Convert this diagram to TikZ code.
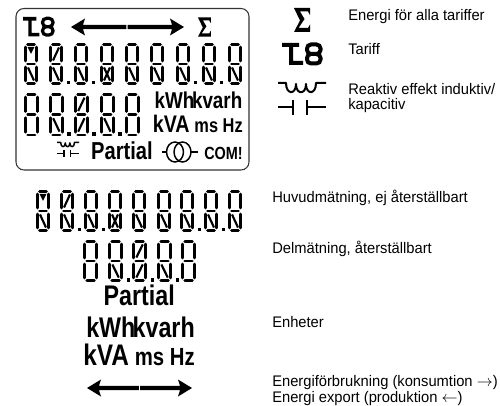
\documentclass[tikz,border=0pt]{standalone}
\usepackage{fontspec}
\setmainfont[FakeStretch=0.96]{Liberation Sans}
\newfontfamily\lcdfont[FakeStretch=0.82]{Liberation Sans}
\tikzset{
  x=0.75pt,y=-0.75pt,
  seg/.style={line width=2.1pt,line cap=round},
  diag/.style={line width=1.6pt},
  lbl/.style={anchor=base west,inner sep=0pt,font=\fontsize{11.5pt}{13pt}\selectfont},
  unit/.style={anchor=base east,inner sep=0pt,font=\lcdfont\bfseries\fontsize{#1}{#1}\selectfont}
}
% one display digit, local box 14 x 42
\newcommand{\lcd}[5]{%
\begin{scope}[shift={(#1,#2)},xscale=#3,yscale=#4]
  \draw[seg] (3.5,1.3)--(10.5,1.3) (3.5,21)--(10.5,21) (3.5,40.7)--(10.5,40.7)
     (1.3,4)--(1.3,18) (12.7,4)--(12.7,18) (1.3,24)--(1.3,38) (12.7,24)--(12.7,38);
  #5
\end{scope}}
\newcommand{\dL}{\draw[diag] (4,24.5)--(10,37.5);}
\newcommand{\dF}{\draw[diag] (4,37.5)--(10,24.5);}
\newcommand{\uF}{\draw[diag] (4,17.5)--(10,4.5);}
\newcommand{\uV}{\fill (3.6,4)--(10.4,4)--(7,11)--cycle;}
\newcommand{\dX}{\dL\dF}
\newcommand{\pt}{\fill (17.5,38) rectangle (20.5,41.5);}
\newcommand{\tariff}[5]{%
\begin{scope}[shift={(#1,#2)},xscale=#3,yscale=#4]
  \fill (0,0) rectangle (17,4) (7,0) rectangle (11,22) (7,18) rectangle (21,22);
  \draw[line width=#5,rounded corners=3] (25,1.5) rectangle (38.5,11) (25,11) rectangle (38.5,20.5);
\end{scope}}
\newcommand{\sigm}[3]{%
\begin{scope}[shift={(#1,#2)},scale=#3]
  \fill (0,0)--(16,0)--(16,7)--(14,3.5)--(6,3.5)--(10.5,11)--(4.5,20)--(14,20)--(16,16.5)--(16,24)--(0,24)--(6,12.5)--cycle;
\end{scope}}
\newcommand{\react}[4]{%
\begin{scope}[shift={(#1,#2)},scale=#3]
  \draw[line width=#4,line join=round] (0,1)--(8,1) .. controls (8,13) and (18,13) .. (18,2)
     .. controls (18,13) and (28,13) .. (28,2) .. controls (28,13) and (38,13) .. (38,1)--(48,1);
  \draw[line width=#4] (0,25)--(15,25) (15,18)--(15,33) (29,18)--(29,33) (29,25)--(48,25);
\end{scope}}
\newcommand{\dblarrow}[4]{% x1,x2,y,gap
  \fill (#1,#3)--(#1+14,#3-8.5)--(#1+12,#3-2.2)--(#4-.7,#3-2.2)--(#4-.7,#3+2.2)--(#1+12,#3+2.2)--(#1+14,#3+8.5)--cycle;
  \fill (#2,#3)--(#2-14,#3-8.5)--(#2-12,#3-2.2)--(#4+.7,#3-2.2)--(#4+.7,#3+2.2)--(#2-12,#3+2.2)--(#2-14,#3+8.5)--cycle;}
\begin{document}
\begin{tikzpicture}
\useasboundingbox (0,0) rectangle (500,406);
\draw[line width=0.8pt,draw=black!80,rounded corners=6] (16,8.5) rectangle (249,170);
\tariff{23}{17}{0.78}{0.88}{2.4pt}
\dblarrow{71}{184}{27}{127}
\sigm{198}{17.5}{0.8}
% display, line 1
\lcd{24}{43}{1}{1}{\uV\dL}
\lcd{49}{43}{1}{1}{\uF\dL\pt}
\lcd{74}{43}{1}{1}{\dL\pt}
\lcd{100}{43}{1}{1}{\dX}
\lcd{125}{43}{1}{1}{\dL}
\lcd{150}{43}{1}{1}{\dL}
\lcd{176}{43}{1}{1}{\dL\pt}
\lcd{202}{43}{1}{1}{\dL\pt}
\lcd{228}{43}{1}{1}{\dL}
% display, line 2
\lcd{24}{93}{1.05}{1.03}{}
\lcd{49}{93}{1.05}{1.03}{\dL\pt}
\lcd{74}{93}{1.05}{1.03}{\uF\dF\pt}
\lcd{100}{93}{1.05}{1.03}{\dL\pt}
\lcd{125}{93}{1.05}{1.03}{}
\node[unit=17.2pt] (u1) at (242.5,109) {kWh\kern-.1em kvarh};
\node[unit=18pt] (u2) at (243,133) {kVA\kern.2em\fontsize{15pt}{15pt}\selectfont ms Hz};
\react{57}{142}{0.46}{1.1pt}
\node[unit=18.4pt] (u3) at (153,160) {Partial};
\draw[line width=1.1pt] (162,152)--(166,152) (191,152)--(198,152);
\draw[line width=1.1pt] (175,152) ellipse[x radius=8.5,y radius=10];
\draw[line width=1.1pt] (182.5,152) ellipse[x radius=8.5,y radius=10];
\node[unit=13.2pt] (u4) at (243,160) {COM!};
% explanation, right column
\sigm{294}{8}{1}
\tariff{282}{43}{1}{1}{3pt}
\react{278}{82}{1}{1.5pt}
\node[lbl] (t1) at (348,21) {Energi för alla tariffer};
\node[lbl] (t2) at (348,55) {Tariff};
\node[lbl] (t3) at (348,95) {Reaktiv effekt induktiv/};
\node[lbl] (t4) at (348,110) {kapacitiv};
% separated segments
\lcd{36}{190}{1}{1}{\uV\dL}
\lcd{60}{190}{1}{1}{\uF\dL\pt}
\lcd{84}{190}{1}{1}{\dL\pt}
\lcd{108}{190}{1}{1}{\dX}
\lcd{132}{190}{1}{1}{\dL}
\lcd{157}{190}{1}{1}{\dL}
\lcd{180}{190}{1}{1}{\dL\pt}
\lcd{204}{190}{1}{1}{\dL\pt}
\lcd{228}{190}{1}{1}{\dL}
\lcd{83}{240}{1.08}{1}{}
\lcd{108}{240}{1.08}{1}{\dL\pt}
\lcd{132}{240}{1.08}{1}{\uF\dF\pt}
\lcd{157}{240}{1.08}{1}{\dL\pt}
\lcd{181}{240}{1.08}{1}{}
\node[unit=21.3pt] (u5) at (175,305) {Partial};
\node[unit=21.3pt] (u6) at (195,337) {kWh\kern-.1em kvarh};
\node[unit=22.3pt] (u7) at (195,365) {kVA\kern.2em\fontsize{18.6pt}{18pt}\selectfont ms Hz};
\dblarrow{87}{192}{388}{139.5}
\node[lbl] (t5) at (272,203) {Huvudmätning, ej återställbart};
\node[lbl] (t6) at (272,253) {Delmätning, återställbart};
\node[lbl] (t7) at (272,327) {Enheter};
\node[lbl] (t8) at (272,386) {Energiförbrukning (konsumtion $\rightarrow$)};
\node[lbl] (t9) at (272,402) {Energi export (produktion $\leftarrow$)};
\end{tikzpicture}
\end{document}
